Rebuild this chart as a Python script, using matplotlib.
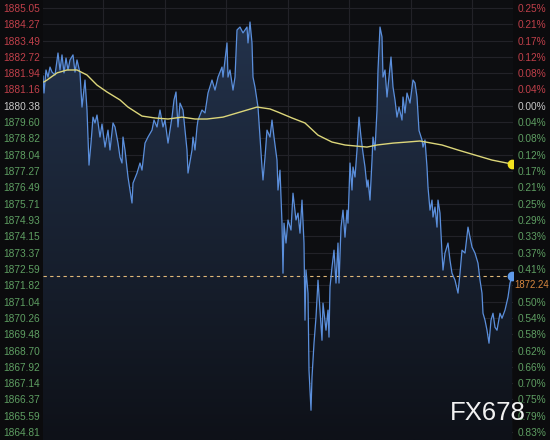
import matplotlib.pyplot as plt
import numpy as np
from matplotlib.patches import Polygon

# price trace (minute index, price)
t = [0, 1, 3, 5, 7, 9, 12, 15, 17, 19, 21, 23, 25, 27, 30, 32, 34, 37, 39, 42,
     44, 46, 48, 50, 52, 54, 57, 59, 62, 65, 67, 70, 72, 75, 77, 79, 80, 82, 85, 89,
     90, 94, 97, 99, 102, 105, 109, 111, 114, 117, 120, 122, 125, 129, 131, 133, 135, 137, 140, 142,
     144, 145, 149, 150, 152, 154, 155, 159, 162, 165, 169, 172, 175, 179, 180, 184, 185, 187, 190, 192,
     194, 197, 200, 204, 205, 207, 209, 210, 212, 215, 217, 219, 220, 222, 224, 227, 229, 231, 234, 235,
     237, 239, 240, 241, 243, 245, 248, 250, 253, 255, 257, 259, 261, 262, 263, 265, 266, 268, 269, 271,
     273, 275, 277, 279, 280, 283, 285, 286, 287, 289, 291, 293, 295, 296, 298, 300, 302, 304, 305, 307,
     309, 310, 312, 314, 316, 318, 320, 322, 324, 325, 327, 329, 330, 332, 334, 335, 337, 339, 340, 342,
     344, 346, 348, 350, 352, 354, 356, 359, 360, 362, 364, 367, 370, 372, 374, 376, 379, 380, 382, 384,
     385, 387, 389, 390, 392, 394, 395, 397, 399, 400, 402, 405, 407, 409, 412, 415, 417, 419, 422, 425,
     427, 429, 432, 435, 437, 439, 440, 442, 444, 446, 448, 450, 452, 454, 457, 459, 462, 465, 467, 469]
price = [1881.80, 1880.99, 1882.09, 1881.75, 1882.23, 1881.99, 1881.85, 1882.90, 1882.09, 1882.81,
         1881.95, 1882.66, 1882.09, 1882.57, 1882.81, 1881.99, 1882.57, 1881.95, 1880.32, 1881.61,
         1880.18, 1877.55, 1878.60, 1879.84, 1879.56, 1879.94, 1878.89, 1879.51, 1878.41, 1879.22,
         1878.27, 1879.56, 1879.37, 1878.60, 1877.93, 1877.65, 1878.89, 1878.27, 1876.98, 1875.74,
         1876.69, 1877.17, 1877.65, 1877.31, 1878.60, 1878.89, 1879.22, 1879.70, 1879.37, 1880.18,
         1879.37, 1879.70, 1878.60, 1879.84, 1880.66, 1881.04, 1879.37, 1880.51, 1880.18, 1879.22,
         1878.27, 1877.17, 1878.27, 1878.89, 1878.27, 1879.37, 1879.70, 1880.18, 1880.04, 1880.99,
         1881.61, 1881.13, 1881.75, 1882.23, 1881.75, 1883.38, 1881.75, 1882.09, 1881.13, 1881.75,
         1884.00, 1884.14, 1883.86, 1884.14, 1883.38, 1884.38, 1883.38, 1881.75, 1881.28, 1880.32,
         1878.89, 1877.46, 1876.84, 1877.93, 1879.22, 1878.89, 1879.70, 1878.89, 1877.79, 1876.36,
         1877.31, 1874.78, 1872.39, 1874.78, 1873.83, 1874.93, 1874.45, 1876.21, 1874.93, 1875.26,
         1874.30, 1875.88, 1873.83, 1870.15, 1872.54, 1871.44, 1867.76, 1865.85, 1867.43, 1869.05,
         1870.29, 1872.06, 1870.63, 1869.19, 1870.96, 1869.67, 1870.63, 1869.34, 1871.73, 1872.68,
         1873.49, 1871.92, 1873.83, 1871.92, 1874.59, 1875.40, 1874.11, 1875.40, 1874.78, 1877.65,
         1876.36, 1877.46, 1876.98, 1878.27, 1879.84, 1878.89, 1878.13, 1877.46, 1876.50, 1876.84,
         1875.88, 1877.79, 1878.89, 1878.27, 1880.18, 1882.09, 1884.14, 1883.67, 1881.75, 1882.09,
         1880.80, 1881.75, 1882.71, 1881.28, 1880.66, 1879.84, 1880.32, 1879.70, 1880.80, 1880.04,
         1880.99, 1880.51, 1881.61, 1881.47, 1880.80, 1879.20, 1878.75, 1878.41, 1878.75, 1877.46,
         1876.50, 1875.40, 1875.88, 1875.07, 1875.55, 1874.59, 1875.88, 1875.26, 1873.35, 1872.54,
         1873.35, 1873.83, 1873.01, 1872.39, 1872.06, 1871.44, 1872.39, 1873.49, 1873.35, 1874.59,
         1874.11, 1873.64, 1873.35, 1872.87, 1872.06, 1871.44, 1870.48, 1870.15, 1869.67, 1869.05,
         1870.15, 1870.48, 1869.81, 1869.67, 1870.48, 1870.24, 1870.63, 1871.25, 1871.92, 1872.24]

# moving average (yellow)
ma_t = [1, 4, 14, 24, 34, 44, 54, 64, 77, 85, 99, 112, 125, 139, 152, 164, 180, 197, 214, 227,
        235, 249, 262, 275, 289, 302, 324, 334, 350, 364, 377, 399, 415, 432, 449, 469]
ma = [1881.52, 1881.61, 1881.95, 1882.09, 1882.09, 1881.85, 1881.37, 1881.04, 1880.66, 1880.32,
      1879.89, 1879.80, 1879.75, 1879.84, 1879.75, 1879.75, 1879.84, 1880.08, 1880.32, 1880.23,
      1880.08, 1879.80, 1879.56, 1878.98, 1878.65, 1878.51, 1878.41, 1878.51, 1878.60, 1878.65,
      1878.70, 1878.51, 1878.27, 1878.03, 1877.79, 1877.60]

left_ticks = [1885.05, 1884.27, 1883.49, 1882.72, 1881.94, 1881.16, 1880.38, 1879.60, 1878.82,
              1878.04, 1877.27, 1876.49, 1875.71, 1874.93, 1874.15, 1873.37, 1872.59, 1871.82,
              1871.04, 1870.26, 1869.48, 1868.70, 1867.92, 1867.14, 1866.37, 1865.59, 1864.81]
right_labels = ['0.25%', '0.21%', '0.17%', '0.12%', '0.08%', '0.04%', '0.00%', '0.04%', '0.08%',
                '0.12%', '0.17%', '0.21%', '0.25%', '0.29%', '0.33%', '0.37%', '0.41%', '',
                '0.50%', '0.54%', '0.58%', '0.62%', '0.66%', '0.70%', '0.75%', '0.79%', '0.83%']
base = 1880.38
last = 1872.24
vgrid = [60, 121.5, 183, 244.5, 306, 367.5, 429]

red = '#c0404a'
green = '#5e9e62'
grey = '#c8c8c8'
bg = '#0b0b0d'

fig = plt.figure(figsize=(5.5, 4.4), dpi=100, facecolor=bg)
ax = fig.add_axes([43 / 550, 0, 470 / 550, 1])
ax.set_facecolor('#0d0e11')
ymin, ymax = 1864.43, 1885.43
ax.set_xlim(0, 470)
ax.set_ylim(ymin, ymax)

for v in left_ticks:
    ax.axhline(v, color='#222228', lw=0.8, zorder=0)
for v in vgrid:
    ax.axvline(v, color='#222228', lw=0.8, zorder=0)

# gradient fill under the price line
grad = np.linspace(1, 0, 256).reshape(-1, 1)
top = np.array([0x24, 0x34, 0x4e]) / 255
bot = np.array([0x0e, 0x11, 0x18]) / 255
img = grad[..., None] * top + (1 - grad[..., None]) * bot
im = ax.imshow(img, extent=[0, 470, ymin, ymax], aspect='auto', zorder=1, origin='upper')
poly = Polygon(list(zip(t, price)) + [(t[-1], ymin), (t[0], ymin)], closed=True,
               facecolor='none', edgecolor='none')
ax.add_patch(poly)
im.set_clip_path(poly)

ax.plot(t, price, color='#5b8fdc', lw=0.9, zorder=3)
ax.plot(ma_t, ma, color='#dcd67a', lw=1.0, zorder=4)
ax.axhline(last, color='#e0b878', lw=0.8, ls=(0, (3, 3)), zorder=2)
ax.plot(t[-1], price[-1], 'o', color='#5f9ae8', ms=6, zorder=5)
ax.plot(ma_t[-1], ma[-1], 'o', color='#f2e21e', ms=6, zorder=5)

for s in ax.spines.values():
    s.set_visible(False)
ax.set_xticks([])
ax.set_yticks(left_ticks)
ax.set_yticklabels(['%.2f' % v for v in left_ticks], family='Liberation Sans', fontsize=7.3)
ax.tick_params(axis='y', length=0, pad=2)
for lab, v in zip(ax.get_yticklabels(), left_ticks):
    lab.set_color(red if v > base else (grey if v == base else green))

ax2 = ax.twinx()
ax2.set_ylim(ymin, ymax)
ax2.set_yticks(left_ticks)
ax2.set_yticklabels(right_labels, family='Liberation Sans', fontsize=7.3)
ax2.tick_params(axis='y', length=0, pad=3)
for lab, v in zip(ax2.get_yticklabels(), left_ticks):
    lab.set_color(red if v > base else (grey if v == base else green))
for s in ax2.spines.values():
    s.set_visible(False)
ax2.text(1.003, 1871.82, '%.2f' % last, transform=ax2.get_yaxis_transform(),
         color='#d8873f', fontsize=6.9, family='Liberation Sans', va='center', ha='left')

fig.text(450 / 550, 1 - 420 / 440, 'FX678', color='#f2f2f2', fontsize=18.5,
         family='Liberation Sans', ha='left', va='baseline')

fig.savefig('out.png', dpi=100, facecolor=bg)
